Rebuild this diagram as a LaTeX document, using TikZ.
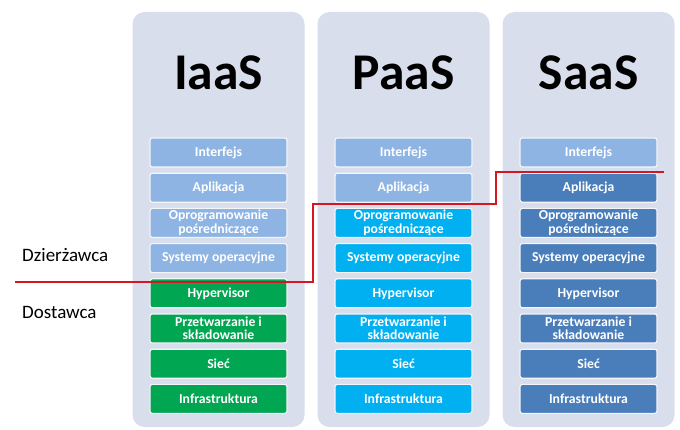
\documentclass[tikz,border=0pt]{standalone}
\usepackage{fontspec}
\setmainfont{Carlito}
\usetikzlibrary{positioning}
\definecolor{colbg}{RGB}{216,222,236}
\definecolor{lightbox}{RGB}{142,180,227}
\definecolor{iaasgreen}{RGB}{0,166,81}
\definecolor{paascyan}{RGB}{0,176,240}
\definecolor{saasblue}{RGB}{74,126,187}
\definecolor{splitred}{RGB}{214,22,32}
\tikzset{
  layerbox/.style={draw=white!70!colbg, line width=1pt, rounded corners=2pt,
    minimum width=4.11cm, minimum height=0.87cm, inner sep=0pt, align=center,
    text=white, font=\bfseries\fontsize{11.7}{11.5}\selectfont},
  titletext/.style={font=\bfseries\fontsize{44}{44}\selectfont, inner sep=0pt},
  sidetext/.style={font=\fontsize{16.2}{17}\selectfont, inner sep=0pt, anchor=west}
}

\begin{document}
\begin{tikzpicture}[x=0.03cm,y=-0.03cm]
  \useasboundingbox (0,0) rectangle (680,430);
  % kolumny z tytulami
  \foreach \cx/\name [count=\c] in {218.5/IaaS,403.5/PaaS,588.5/SaaS}{
    \fill[colbg,rounded corners=0.36cm] (\cx-86,12) rectangle (\cx+86,427);
    \node[titletext, anchor=base] (title\c) at (\cx,90) {\name};
  }
  % warstwy
  \foreach \cx/\fillc/\nlight [count=\c] in {218.5/iaasgreen/4,403.5/paascyan/2,588.5/saasblue/1}{
    \foreach \txt [count=\r] in {Interfejs, Aplikacja, {Oprogramowanie\\pośredniczące},
        Systemy operacyjne, Hypervisor, {Przetwarzanie i\\składowanie}, Sieć, Infrastruktura}{
      \ifnum\r>\nlight \def\boxc{\fillc}\else\def\boxc{lightbox}\fi
      \node[layerbox, fill=\boxc] (c\c r\r) at (\cx,{152.5+35.2*(\r-1)}) {\txt};
    }
  }
  \node[sidetext] (tenant) at (22,255) {Dzierżawca};
  \node[sidetext] (provider) at (22,312) {Dostawca};
  % granica odpowiedzialnosci
  \coordinate (cutA) at (15,282);
  \coordinate (cutB) at (313,282);
  \coordinate (cutC) at (313,204);
  \coordinate (cutD) at (496,204);
  \coordinate (cutE) at (496,172);
  \coordinate (cutF) at (664,172);
  \draw[splitred, line width=1.8pt] (cutA) -- (cutB) -- (cutC) -- (cutD) -- (cutE) -- (cutF);
\end{tikzpicture}
\end{document}
